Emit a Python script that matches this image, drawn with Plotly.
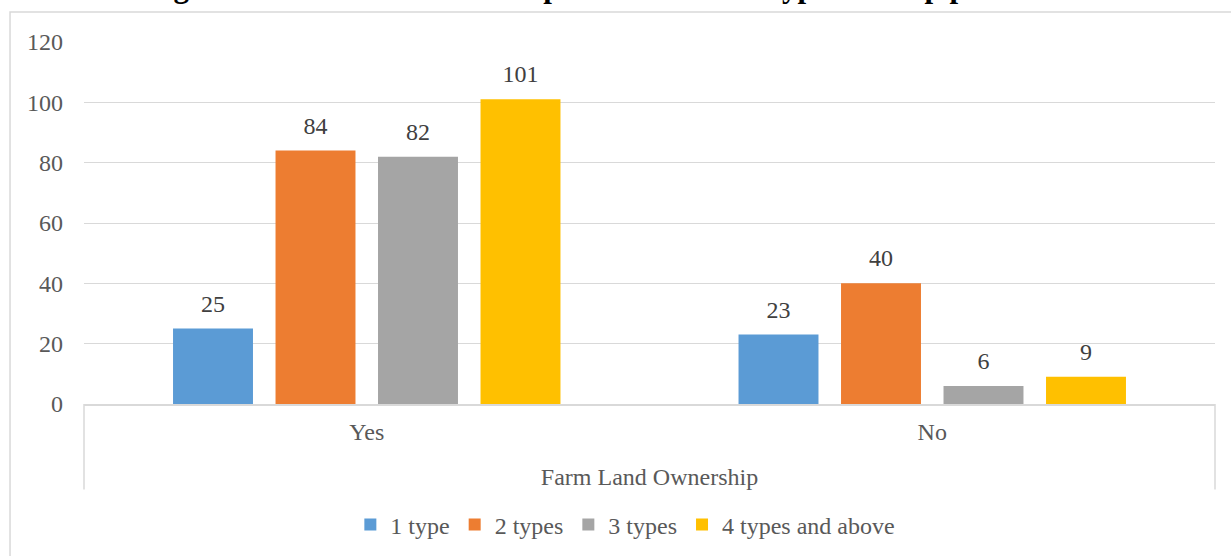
import plotly.graph_objects as go

# Farm land ownership vs. number of crop types grown
categories = ["Yes", "No"]
series_names = ["1 type", "2 types", "3 types", "4 types and above"]
one_type = [25, 23]
two_types = [84, 40]
three_types = [82, 6]
four_plus = [101, 9]
y_ticks = [0, 20, 40, 60, 80, 100, 120]

series_values = [one_type, two_types, three_types, four_plus]
colors = ["#5B9BD5", "#ED7D31", "#A5A5A5", "#FFC000"]

FONT = "Liberation Serif, Times New Roman, serif"
GRID = "#D9D9D9"
FS = 24
BAR_GAP = 0.275

fig = go.Figure()

for name, vals, col in zip(series_names, series_values, colors):
    fig.add_trace(go.Bar(
        x=categories, y=vals, name=name,
        marker=dict(color=col, line=dict(width=0)),
    ))

# value labels, grouped the same way as the bars
for name, vals in zip(series_names, series_values):
    fig.add_trace(go.Scatter(
        x=categories, y=vals, mode="markers+text",
        text=[str(v) for v in vals], textposition="top center",
        textfont=dict(family=FONT, size=FS, color="#404040"),
        marker=dict(size=16, color="rgba(0,0,0,0)"),
        showlegend=False, hoverinfo="skip",
    ))

# chart frame and the category-axis box
shapes = [
    dict(type="rect", xref="paper", yref="paper",
         x0=-0.0654, x1=1.05, y0=-0.45, y1=1.0828,
         line=dict(color=GRID, width=1.5), fillcolor="rgba(0,0,0,0)", layer="below"),
    dict(type="line", xref="paper", yref="paper",
         x0=0, x1=0, y0=0, y1=-0.236, line=dict(color=GRID, width=1.5)),
    dict(type="line", xref="paper", yref="paper",
         x0=1, x1=1, y0=0, y1=-0.236, line=dict(color=GRID, width=1.5)),
]

fig.update_layout(
    width=1231, height=556,
    margin=dict(l=84, r=16, t=42, b=151.5),
    paper_bgcolor="white", plot_bgcolor="white",
    barmode="group", bargap=BAR_GAP, bargroupgap=0.22,
    scattermode="group", scattergap=BAR_GAP,
    font=dict(family=FONT, size=FS, color="#595959"),
    showlegend=True,
    legend=dict(
        orientation="h", xref="container", yref="container",
        x=0.508, y=0.056, xanchor="center", yanchor="middle",
        font=dict(family=FONT, size=FS, color="#595959"),
        bgcolor="rgba(0,0,0,0)", traceorder="normal",
    ),
    shapes=shapes,
    annotations=[dict(
        text="<b>Figure 6: Farm land ownership and number of types of crop production</b>",
        xref="paper", yref="paper", x=0.474, y=1.1159,
        xanchor="center", yanchor="bottom", yshift=-6, showarrow=False,
        font=dict(family=FONT, size=31, color="black"),
    )],
)

fig.update_xaxes(
    type="category", categoryorder="array", categoryarray=categories,
    showline=True, linecolor=GRID, linewidth=1.5,
    showgrid=False, ticks="", ticklabelstandoff=5,
    tickfont=dict(family=FONT, size=FS, color="#595959"),
    title=dict(text="Farm Land Ownership", standoff=25,
               font=dict(family=FONT, size=FS, color="#595959")),
    automargin=False, fixedrange=True,
)

fig.update_yaxes(
    range=[0, 120], tickvals=y_ticks, ticktext=[str(t) for t in y_ticks],
    showgrid=True, gridcolor=GRID, gridwidth=1,
    zeroline=False, showline=False, ticks="", ticklabelstandoff=20,
    tickfont=dict(family=FONT, size=FS, color="#595959"),
    automargin=False, fixedrange=True,
)

fig.write_html("out.html")
